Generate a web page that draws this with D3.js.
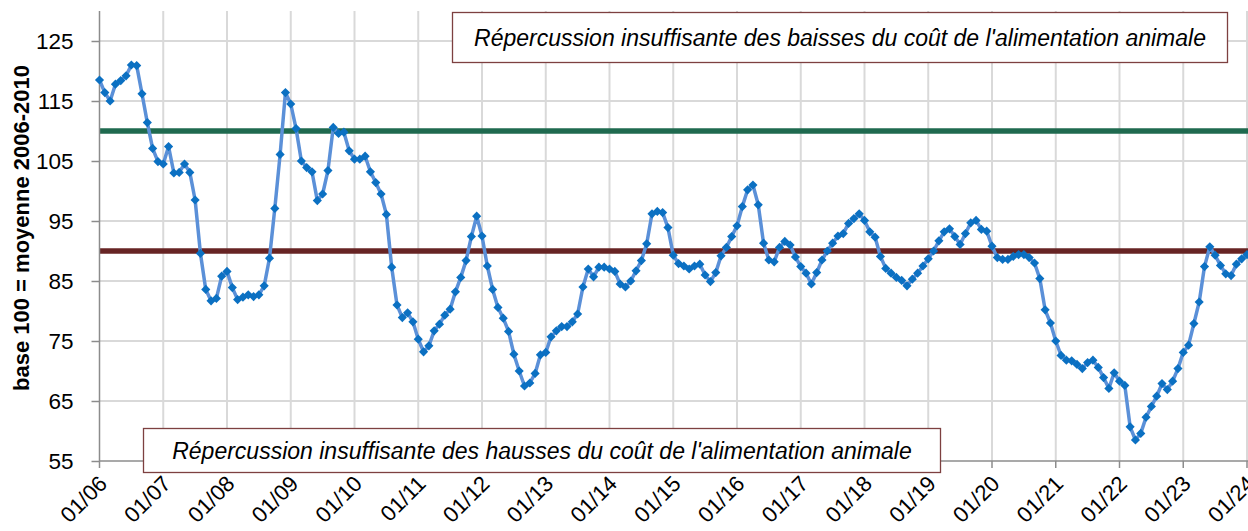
<!DOCTYPE html>
<html><head><meta charset="utf-8">
<script src="https://cdn.jsdelivr.net/npm/d3@7"></script>
<style>body{margin:0;background:#fff}svg{display:block}text{font-family:"Liberation Sans",Arial,sans-serif}</style>
</head><body>
<svg id="c" width="1248" height="531"></svg>
<script>
// Monthly index values, Jan 2006 .. Jan 2024 (base 100 = moyenne 2006-2010)
const values = [
 118.5,116.4,115.0,117.8,118.4,119.2,121.0,120.9,116.2,111.4,107.1,104.9,
 104.5,107.4,103.0,103.1,104.5,103.1,98.5,89.6,83.6,81.7,82.1,85.8,
 86.6,83.9,81.9,82.3,82.7,82.4,82.7,84.2,88.8,97.1,106.1,116.4,
 114.5,110.4,105.0,103.9,103.2,98.4,99.5,103.4,110.6,109.6,109.8,106.7,
 105.3,105.3,105.8,103.2,101.4,99.5,96.1,87.3,81.0,78.9,79.7,78.2,
 75.3,73.2,74.2,76.7,77.8,79.3,80.3,83.2,85.6,88.4,92.4,95.8,
 92.5,87.5,83.6,80.6,78.8,76.6,72.8,70.0,67.5,68.0,69.6,72.7,
 73.1,75.7,76.7,77.4,77.4,78.2,79.5,84.0,87.0,85.7,87.3,87.3,
 87.0,86.6,84.5,84.0,85.0,86.7,88.4,91.2,96.2,96.6,96.4,93.9,
 89.3,87.9,87.5,87.0,87.5,87.8,86.0,84.9,86.4,89.2,90.6,92.4,
 94.2,97.4,100.2,101.0,97.7,91.3,88.5,88.2,90.6,91.6,91.0,89.0,
 87.4,86.3,84.5,86.4,88.5,90.0,91.3,92.5,92.9,94.6,95.4,96.2,
 95.1,93.2,92.3,89.1,87.1,86.3,85.6,85.1,84.2,85.3,86.3,87.5,
 88.7,90.0,91.7,93.2,93.7,92.4,91.1,92.9,94.7,95.1,93.6,93.3,
 90.8,88.9,88.6,88.6,89.1,89.4,89.4,88.9,88.0,85.4,80.2,78.0,
 75.0,72.6,71.8,71.7,71.1,70.4,71.4,71.8,70.6,68.9,67.1,69.7,
 68.3,67.6,60.7,58.5,59.6,62.3,64.1,65.8,67.9,66.9,68.3,70.4,
 73.1,74.3,77.9,81.5,87.4,90.7,89.3,87.6,86.2,85.9,87.8,88.7,
 89.4
];
const xTickLabels = ["01/06","01/07","01/08","01/09","01/10","01/11","01/12","01/13","01/14","01/15",
  "01/16","01/17","01/18","01/19","01/20","01/21","01/22","01/23","01/24"];
const yTicks = [55,65,75,85,95,105,115,125];
const refLevels = [110, 90];
const refColors = ["#1f6a4f", "#672424"];
const boxTexts = [
  "Répercussion insuffisante des baisses du coût de l'alimentation animale",
  "Répercussion insuffisante des hausses du coût de l'alimentation animale"
];
const yTitle = "base 100 = moyenne 2006-2010";

const svg = d3.select("#c");
const x = d3.scaleLinear().domain([0, values.length - 1]).range([99.5, 1247]);
const y = d3.scaleLinear().domain([55, 130]).range([461, 11]);
const tickIdx = xTickLabels.map((_, i) => i * 12);

// grid
const g = svg.append("g");
g.selectAll(".hg").data(yTicks.slice(1)).join("line")
  .attr("x1", x(0)).attr("x2", 1248).attr("y1", d => y(d)).attr("y2", d => y(d))
  .attr("stroke", "#d9d9d9").attr("stroke-width", 2);
g.selectAll(".vg").data(tickIdx.slice(1)).join("line")
  .attr("x1", d => x(d)).attr("x2", d => x(d)).attr("y1", y(130)).attr("y2", y(55))
  .attr("stroke", "#d9d9d9").attr("stroke-width", 2);

// reference lines
svg.selectAll(".ref").data(refLevels).join("line")
  .attr("x1", x(0)).attr("x2", 1248).attr("y1", d => y(d)).attr("y2", d => y(d))
  .attr("stroke", (d, i) => refColors[i]).attr("stroke-width", 5.5);

// axes
const yAxis = svg.append("g").attr("transform", `translate(${x(0)},0)`)
  .call(d3.axisLeft(y).tickValues(yTicks).tickSize(8).tickPadding(18).tickFormat(d3.format("d")));
yAxis.select(".domain").attr("stroke", "#8c8c8c").attr("stroke-width", 1.5).attr("d", `M0,${y(130)}V${y(55)}`);
yAxis.selectAll(".tick line").attr("stroke", "#8c8c8c").attr("stroke-width", 1.5);
yAxis.selectAll(".tick text").attr("font-size", 22.5).attr("fill", "#000")
  .style("font-family", "'Liberation Sans', Arial, sans-serif");

const xAxis = svg.append("g").attr("transform", `translate(0,${y(55)})`);
xAxis.append("line").attr("x1", x(0)).attr("x2", 1248).attr("stroke", "#8c8c8c").attr("stroke-width", 1.5);
xAxis.selectAll(".xt").data(tickIdx).join("line")
  .attr("x1", d => x(d)).attr("x2", d => x(d)).attr("y1", 0).attr("y2", 7)
  .attr("stroke", "#8c8c8c").attr("stroke-width", 1.5);
xAxis.selectAll(".xl").data(tickIdx).join("text")
  .attr("text-anchor", "end").attr("font-size", 22)
  .attr("transform", d => `translate(${x(d) + 9},${24}) rotate(-45)`)
  .text((d, i) => xTickLabels[i]);

// data line
const line = d3.line().x((d, i) => x(i)).y(d => y(d));
svg.append("path").datum(values).attr("d", line)
  .attr("fill", "none").attr("stroke", "#5b90d8").attr("stroke-width", 3.5).attr("stroke-linejoin", "round");
const sym = d3.symbol(d3.symbolSquare, 42);
svg.selectAll(".m").data(values).join("path")
  .attr("d", sym).attr("fill", "#0b70c2")
  .attr("transform", (d, i) => `translate(${x(i)},${y(d)}) rotate(45)`);

// annotation boxes
function box(x0, y0, w, h, txt) {
  svg.append("rect").attr("x", x0).attr("y", y0).attr("width", w).attr("height", h)
    .attr("fill", "#fff").attr("stroke", "#7d4040").attr("stroke-width", 1.3);
  svg.append("text").attr("x", x0 + w / 2).attr("y", y0 + h / 2).attr("dy", "0.35em")
    .attr("text-anchor", "middle").attr("font-size", 23).attr("font-style", "italic").text(txt);
}
box(452.5, 12.5, 775, 50, boxTexts[0]);
box(143.5, 428.5, 797, 44, boxTexts[1]);

// y title
svg.append("text").attr("transform", "translate(29,228) rotate(-90)")
  .attr("text-anchor", "middle").attr("font-size", 22).attr("font-weight", "bold").text(yTitle);
</script>
</body></html>
